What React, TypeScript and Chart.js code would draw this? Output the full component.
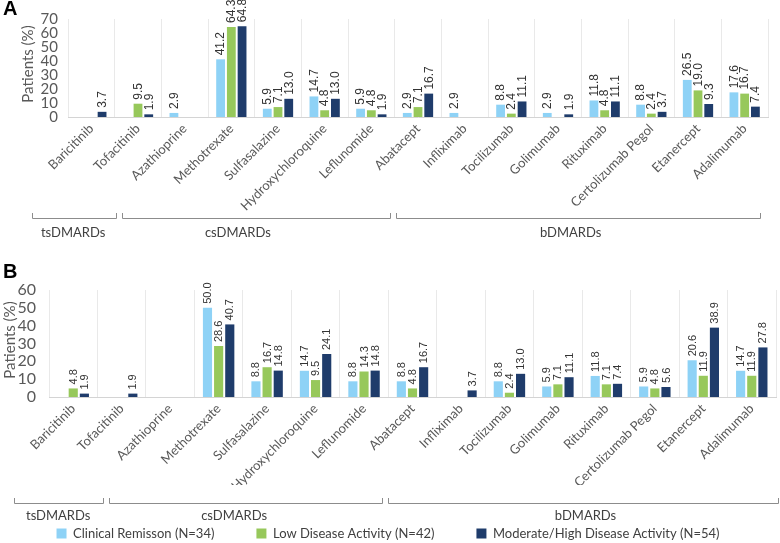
import React, { useEffect, useRef } from 'react';
import { Chart, registerables } from 'chart.js';

Chart.register(...registerables);

// ---------------- data ----------------
const CATEGORIES = [
  'Baricitinib', 'Tofacitinib', 'Azathioprine', 'Methotrexate', 'Sulfasalazine',
  'Hydroxychloroquine', 'Leflunomide', 'Abatacept', 'Infliximab', 'Tocilizumab',
  'Golimumab', 'Rituximab', 'Certolizumab Pegol', 'Etanercept', 'Adalimumab',
];

const SERIES_NAMES = [
  'Clinical Remisson (N=34)',
  'Low Disease Activity (N=42)',
  'Moderate/High Disease Activity (N=54)',
];
const SERIES_COLORS = ['#8ed2f6', '#97c85b', '#1f3c6b'];

const A_REMISSION = [null, null, 2.9, 41.2, 5.9, 14.7, 5.9, 2.9, 2.9, 8.8, 2.9, 11.8, 8.8, 26.5, 17.6];
const A_LOW = [null, 9.5, null, 64.3, 7.1, 4.8, 4.8, 7.1, null, 2.4, null, 4.8, 2.4, 19.0, 16.7];
const A_MODHIGH = [3.7, 1.9, null, 64.8, 13.0, 13.0, 1.9, 16.7, null, 11.1, 1.9, 11.1, 3.7, 9.3, 7.4];

const B_REMISSION = [null, null, null, 50.0, 8.8, 14.7, 8.8, 8.8, null, 8.8, 5.9, 11.8, 5.9, 20.6, 14.7];
const B_LOW = [4.8, null, null, 28.6, 16.7, 9.5, 14.3, 4.8, null, 2.4, 7.1, 7.1, 4.8, 11.9, 11.9];
const B_MODHIGH = [1.9, 1.9, null, 40.7, 14.8, 24.1, 14.8, 16.7, 3.7, 13.0, 11.1, 7.4, 5.6, 38.9, 27.8];

const A_Y_MAX = 70;
const B_Y_MAX = 60;
const Y_STEP = 10;
const Y_TITLE = 'Patients (%)';

const GROUP_NAMES = ['tsDMARDs', 'csDMARDs', 'bDMARDs'];

// ---------------- layout ----------------
const FONT = 'Lato, "Open Sans", sans-serif';
const TEXT_GREY = '#595959';

const PANEL_A = {
  letter: 'A', letterBaseline: 15,
  canvasHeight: 250, visibleHeight: 250,
  top: 19, bottom: 117, left: 68, right: 768,
  yMax: A_Y_MAX, yTickFont: 15, yTickPad: 10,
  titleX: 28, titleY: 64, titleFont: 15,
  dataFont: 12, catFont: 13,
  bracketTop: 213, bracketLine: 218, groupLabelY: 233,
  // bracket spans in category-edge units (0 = left edge of first category)
  brackets: [[-0.77, 1.05], [1.16, 6.92], [7.02, 14.86]],
  groupLabelAt: [0.11, 3.64, 10.77],
  legend: false,
};

const PANEL_B = {
  letter: 'B', letterBaseline: 28,
  canvasHeight: 300, visibleHeight: 293,
  top: 40, bottom: 147, left: 49, right: 776,
  yMax: B_Y_MAX, yTickFont: 16, yTickPad: 13,
  titleX: 10, titleY: 90, titleFont: 15,
  dataFont: 11, catFont: 13,
  bracketTop: 248, bracketLine: 253, groupLabelY: 266,
  brackets: [[-0.72, 1.14], [1.24, 6.9], [7.0, 15.06]],
  groupLabelAt: [0.19, 3.82, 11.07],
  legend: true,
};

const overlayPlugin = {
  id: 'overlay',
  afterDatasetsDraw(chart: any, _args: any, opts: any) {
    const ctx = chart.ctx;
    chart.data.datasets.forEach((ds: any, di: number) => {
      const meta = chart.getDatasetMeta(di);
      meta.data.forEach((bar: any, i: number) => {
        const v = ds.data[i];
        if (v == null) return;
        ctx.save();
        ctx.translate(bar.x, bar.y - 4);
        ctx.rotate(-Math.PI / 2);
        ctx.font = `${opts.dataFont}px "Liberation Sans", Arial, sans-serif`;
        ctx.fillStyle = '#333333';
        ctx.textAlign = 'left';
        ctx.textBaseline = 'middle';
        ctx.fillText(Number(v).toFixed(1), 0, 0.5);
        ctx.restore();
      });
    });
  },
  afterDraw(chart: any, _args: any, opts: any) {
    const ctx = chart.ctx;
    const xs = chart.scales.x;
    // panel letter
    ctx.save();
    ctx.font = 'bold 20px "Liberation Sans", Arial, sans-serif';
    ctx.fillStyle = '#000';
    ctx.textAlign = 'left';
    ctx.textBaseline = 'alphabetic';
    ctx.fillText(opts.letter, 3, opts.letterBaseline);
    ctx.restore();
    // y title
    ctx.save();
    ctx.translate(opts.titleX, opts.titleY);
    ctx.rotate(-Math.PI / 2);
    ctx.font = `${opts.titleFont}px ${FONT}`;
    ctx.fillStyle = TEXT_GREY;
    ctx.textAlign = 'center';
    ctx.textBaseline = 'middle';
    ctx.fillText(Y_TITLE, 0, 0);
    ctx.restore();
    // group brackets
    const px = (u: number) => xs.getPixelForValue(u - 0.5);
    ctx.save();
    ctx.strokeStyle = '#8c8c8c';
    ctx.lineWidth = 1;
    opts.brackets.forEach((b: number[]) => {
      const x0 = Math.round(px(b[0])) + 0.5;
      const x1 = Math.round(px(b[1])) - 0.5;
      ctx.beginPath();
      ctx.moveTo(x0, opts.bracketTop);
      ctx.lineTo(x0, opts.bracketLine + 0.5);
      ctx.lineTo(x1, opts.bracketLine + 0.5);
      ctx.lineTo(x1, opts.bracketTop);
      ctx.stroke();
    });
    ctx.font = `13px ${FONT}`;
    ctx.fillStyle = '#404040';
    ctx.textAlign = 'center';
    ctx.textBaseline = 'middle';
    GROUP_NAMES.forEach((name, i) => {
      ctx.fillText(name, px(opts.groupLabelAt[i]), opts.groupLabelY);
    });
    ctx.restore();
  },
};

function Panel({ cfg, series }: { cfg: any; series: (number | null)[][] }) {
  const ref = useRef<HTMLCanvasElement>(null);
  useEffect(() => {
    const canvas = ref.current!;
    const chart = new Chart(canvas, {
      type: 'bar',
      data: {
        labels: CATEGORIES,
        datasets: series.map((d, i) => ({
          label: SERIES_NAMES[i],
          data: d,
          backgroundColor: SERIES_COLORS[i],
          borderWidth: 0,
          categoryPercentage: 0.69,
          barPercentage: 0.82,
        })),
      },
      options: {
        responsive: false,
        maintainAspectRatio: false,
        animation: false,
        devicePixelRatio: 1,
        events: [],
        layout: { padding: { top: cfg.top, right: 780 - cfg.right, left: 0, bottom: 0 } },
        scales: {
          x: {
            offset: true,
            grid: { display: true, offset: true, color: '#e9e9e9', drawTicks: false },
            border: { display: true, color: '#d4d4d4' },
            ticks: {
              autoSkip: false,
              minRotation: 45,
              maxRotation: 45,
              padding: 4,
              color: TEXT_GREY,
              font: { family: FONT, size: cfg.catFont },
            },
            afterFit: (scale: any) => {
              const lh = scale.chart.legend ? scale.chart.legend.height || 0 : 0;
              scale.height = cfg.canvasHeight - cfg.bottom - lh;
            },
          },
          y: {
            min: 0,
            max: cfg.yMax,
            grid: { display: false, drawTicks: false },
            border: { display: false },
            ticks: {
              stepSize: Y_STEP,
              autoSkip: false,
              padding: cfg.yTickPad,
              color: TEXT_GREY,
              font: { family: FONT, size: cfg.yTickFont },
            },
            afterFit: (scale: any) => {
              scale.width = cfg.left;
            },
          },
        },
        plugins: {
          legend: {
            display: cfg.legend,
            position: 'bottom',
            labels: {
              boxWidth: 10,
              boxHeight: 10,
              padding: 42,
              color: '#404040',
              font: { family: FONT, size: 13 },
            },
          },
          tooltip: { enabled: false },
          overlay: cfg,
        } as any,
      },
      plugins: [overlayPlugin],
    } as any);
    return () => chart.destroy();
  }, []);
  return (
    <div style={{ width: 780, height: cfg.visibleHeight, overflow: 'hidden', position: 'relative' }}>
      <canvas ref={ref} width={780} height={cfg.canvasHeight} style={{ display: 'block', width: 780, height: cfg.canvasHeight }} />
    </div>
  );
}

export default function App() {
  useEffect(() => {
    document.body.style.margin = '0';
    document.documentElement.style.overflow = 'hidden';
  }, []);
  return (
    <div style={{ width: 780, height: 543, overflow: 'hidden', background: '#fff' }}>
      <Panel cfg={PANEL_A} series={[A_REMISSION, A_LOW, A_MODHIGH]} />
      <Panel cfg={PANEL_B} series={[B_REMISSION, B_LOW, B_MODHIGH]} />
    </div>
  );
}
